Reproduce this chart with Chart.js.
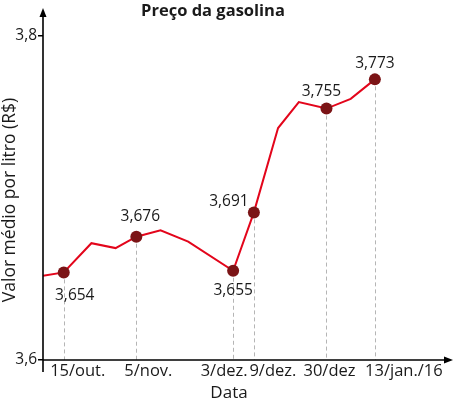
<!DOCTYPE html>
<html>
<head>
<meta charset="utf-8">
<title>Preço da gasolina</title>
<script src="https://cdn.jsdelivr.net/npm/chart.js@4.4.0/dist/chart.umd.min.js"></script>
<style>
  html, body { margin: 0; padding: 0; background: #fff; }
</style>
</head>
<body>
<canvas id="myChart" width="459" height="405"></canvas>
<script>
/* data - x is days counted from 15/out. */
const days = [-6, 0, 8, 15, 21, 28, 36, 49, 55, 62, 68, 76, 83, 90];
const prices = [3.652, 3.654, 3.672, 3.669, 3.676, 3.680, 3.673, 3.655, 3.691, 3.743, 3.759, 3.755, 3.761, 3.773];
const tickDays = [0, 21, 49, 55, 76, 90];
const tickLabels = ['15/out.', '5/nov.', '3/dez.', '9/dez.', '30/dez', '13/jan./16'];
const yTicks = [3.6, 3.8];

/* style - label nudges in px */
const tickNudge = [14, 12, -9, 19, 3, 29];
const valueLabelOffset = [[11, 23], [4, -20], [0, 20], [-25, -11], [-5, -17], [0, -16]];

const fontFamily = '"Open Sans", "Noto Sans", sans-serif';
const textColor = '#1a1a1a';

function comma(v, n) {
    return v.toFixed(n).replace('.', ',');
}

/*guides, axes, labels*/
const extras = {
    id: 'extras',
    beforeDatasetsDraw(chart) {
        const { ctx, scales: { x, y } } = chart;
        ctx.save();
        ctx.strokeStyle = '#b5b5b5';
        ctx.lineWidth = 1;
        ctx.setLineDash([4, 3]);
        tickDays.forEach(function(d) {
            const i = days.indexOf(d);
            const px = Math.round(x.getPixelForValue(d)) + 0.5;
            ctx.beginPath();
            ctx.moveTo(px, y.getPixelForValue(prices[i]));
            ctx.lineTo(px, y.bottom);
            ctx.stroke();
        });
        ctx.restore();
    },
    afterDraw(chart) {
        const { ctx, chartArea: area, scales: { x, y } } = chart;
        ctx.save();

        // axes with arrows
        ctx.strokeStyle = '#000';
        ctx.fillStyle = '#000';
        ctx.lineWidth = 1.6;
        ctx.beginPath();
        ctx.moveTo(area.left, area.top + 4);
        ctx.lineTo(area.left, area.bottom + 12);
        ctx.moveTo(area.left, area.bottom);
        ctx.lineTo(area.right - 4, area.bottom);
        ctx.stroke();

        ctx.beginPath();
        ctx.moveTo(area.left, area.top);
        ctx.lineTo(area.left - 3.5, area.top + 9);
        ctx.lineTo(area.left + 3.5, area.top + 9);
        ctx.closePath();
        ctx.fill();
        ctx.beginPath();
        ctx.moveTo(area.right, area.bottom);
        ctx.lineTo(area.right - 9, area.bottom - 3.5);
        ctx.lineTo(area.right - 9, area.bottom + 3.5);
        ctx.closePath();
        ctx.fill();

        ctx.fillStyle = textColor;
        ctx.textAlign = 'center';
        ctx.textBaseline = 'middle';

        // x tick labels
        ctx.font = '16.5px ' + fontFamily;
        tickDays.forEach(function(d, i) {
            ctx.fillText(tickLabels[i], x.getPixelForValue(d) + tickNudge[i], area.bottom + 11);
        });

        // value labels
        ctx.font = '15.5px ' + fontFamily;
        tickDays.forEach(function(d, i) {
            const k = days.indexOf(d);
            const off = valueLabelOffset[i];
            ctx.fillText(comma(prices[k], 3), x.getPixelForValue(d) + off[0], y.getPixelForValue(prices[k]) + off[1]);
        });

        // titles
        ctx.font = '17px ' + fontFamily;
        ctx.fillText('Data', 229, 393);
        ctx.save();
        ctx.translate(10, 200);
        ctx.rotate(-Math.PI / 2);
        ctx.font = '17.5px ' + fontFamily;
        ctx.fillText('Valor médio por litro (R$)', 0, 0);
        ctx.restore();

        ctx.font = 'bold 16.5px ' + fontFamily;
        ctx.fillText('Preço da gasolina', 213, 11);

        ctx.restore();
    }
};

var ctx = document.getElementById('myChart').getContext('2d');

var chart = new Chart(ctx, {
    type: 'line',
    data: {
        datasets: [{
            label: 'Preço',
            data: days.map(function(d, i) { return { x: d, y: prices[i] }; }),
            borderColor: '#e3051b',
            borderWidth: 2,
            tension: 0,
            pointRadius: function(c) { return tickDays.includes(days[c.dataIndex]) ? 6 : 0; },
            pointHoverRadius: function(c) { return tickDays.includes(days[c.dataIndex]) ? 6 : 0; },
            pointBackgroundColor: '#7b1416',
            pointBorderColor: '#7b1416',
            pointBorderWidth: 0,
        }]
    },
    options: {
        responsive: false,
        animation: false,
        layout: { padding: { top: 8, right: 2, left: 0, bottom: 0 } },
        plugins: {
            legend: { display: false },
            tooltip: { enabled: false },
        },
        scales: {
            x: {
                type: 'linear',
                min: -6,
                max: 112.6,
                ticks: { display: false },
                grid: { display: false },
                border: { display: false },
                afterFit: function(s) { s.height = 45; },
            },
            y: {
                min: 3.6,
                max: 3.817,
                afterBuildTicks: function(s) { s.ticks = yTicks.map(function(v) { return { value: v }; }); },
                ticks: {
                    callback: function(v) { return comma(v, 1); },
                    font: { family: fontFamily, size: 15.5 },
                    color: textColor,
                    padding: 1,
                },
                grid: { drawOnChartArea: false, tickLength: 5, color: '#000', lineWidth: 1.5 },
                border: { display: false },
                afterFit: function(s) { s.width = 43; s.paddingTop = 0; s.paddingBottom = 0; },
            }
        }
    },
    plugins: [extras]
});
</script>
</body>
</html>
